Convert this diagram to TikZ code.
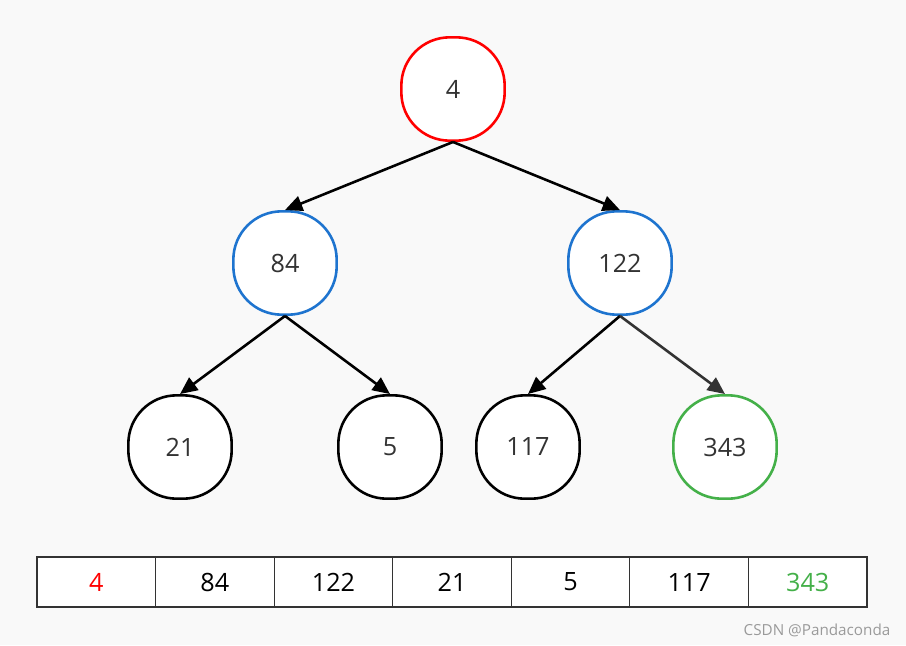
\documentclass[tikz,border=0pt]{standalone}
\usepackage{fontspec}
\setmainfont{Open Sans}
\usepackage{tikz}
\usetikzlibrary{arrows.meta, positioning}

\definecolor{bgray}{HTML}{F9F9F9}
\definecolor{txtgray}{HTML}{333333}
\definecolor{rootred}{HTML}{FF0000}
\definecolor{midblue}{HTML}{1E74CF}
\definecolor{leafgreen}{HTML}{44B049}
\definecolor{markgray}{HTML}{9A9A9A}

\begin{document}
\begin{tikzpicture}[x=0.03cm, y=-0.03cm,
    heapnode/.style={draw, line width=2.2pt, fill=white, rectangle, rounded corners=1.45cm,
        minimum width=3.1cm, minimum height=3.1cm, inner sep=0pt,
        text=txtgray, font=\fontsize{21.5}{25}\selectfont},
    cell/.style={draw=txtgray, line width=1pt, fill=white, minimum width=3.557cm, minimum height=1.5cm,
        inner sep=0pt, outer sep=0pt, text=black, font=\fontsize{21.5}{25}\selectfont},
    edge/.style={line width=2.2pt, -{Triangle[length=0.52cm, width=0.46cm]}}]
            % background and page size
            \fill[bgray] (0,0) rectangle (906,645);
            \useasboundingbox (0,0) rectangle (906,645);

            % the heap as a tree
            \node[heapnode, draw=rootred] (n4) at (453,89) {4};
            \node[heapnode, draw=midblue] (n84) at (285,263) {84};
            \node[heapnode, draw=midblue] (n122) at (620,263) {122};
            \node[heapnode, draw=black] (n21) at (180,447) {21};
            \node[heapnode, draw=black] (n5) at (390,447) {5};
            \node[heapnode, draw=black] (n117) at (528,447) {117};
            \node[heapnode, draw=leafgreen] (n343) at (725,447) {343};

            % edges, parent bottom to child top
            \draw[edge] (n4.south) -- (n84.north);
            \draw[edge] (n4.south) -- (n122.north);
            \draw[edge] (n84.south) -- (n21.north);
            \draw[edge] (n84.south) -- (n5.north);
            \draw[edge] (n122.south) -- (n117.north);
            \draw[edge, txtgray] (n122.south) -- (n343.north);

            % the same heap as an array
            \node[cell, text=rootred] (a0) at (96.3,582) {4};
            \node[cell, right=0pt of a0] (a1) {84};
            \node[cell, right=0pt of a1] (a2) {122};
            \node[cell, right=0pt of a2] (a3) {21};
            \node[cell, right=0pt of a3] (a4) {5};
            \node[cell, right=0pt of a4] (a5) {117};
            \node[cell, right=0pt of a5, text=leafgreen] (a6) {343};

            \node[text=markgray, font=\fontsize{13}{15}\selectfont] (mark) at (817,630) {CSDN @Pandaconda};
        \end{tikzpicture}
\end{document}
